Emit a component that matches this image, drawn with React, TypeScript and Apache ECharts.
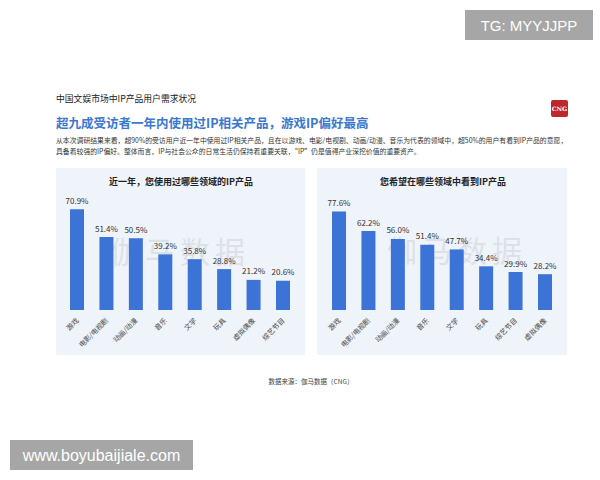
import React, { useEffect, useRef } from "react";
import * as echarts from "echarts";

const leftCategories = ["游戏", "电影/电视剧", "动画/动漫", "音乐", "文学", "玩具", "虚拟偶像", "综艺节目"];
const leftValues = [70.9, 51.4, 50.5, 39.2, 35.8, 28.8, 21.2, 20.6];
const rightCategories = ["游戏", "电影/电视剧", "动画/动漫", "音乐", "文学", "玩具", "综艺节目", "虚拟偶像"];
const rightValues = [77.6, 62.2, 56.0, 51.4, 47.7, 34.4, 29.9, 28.2];

const subtitle = "中国文娱市场中IP产品用户需求状况";
const headline = "超九成受访者一年内使用过IP相关产品，游戏IP偏好最高";
const bodyLine1 = "从本次调研结果来看，超90%的受访用户近一年中使用过IP相关产品，且在以游戏、电影/电视剧、动画/动漫、音乐为代表的领域中，超50%的用户有看到IP产品的意愿，";
const bodyLine2 = "具备着较强的IP偏好。整体而言，IP与社会公众的日常生活仍保持着重要关联，“IP”仍是值得产业深挖价值的重要资产。";
const leftTitle = "近一年，您使用过哪些领域的IP产品";
const rightTitle = "您希望在哪些领域中看到IP产品";
const source = "数据来源：伽马数据（CNG）";
const watermarkChars = ["伽", "马", "数", "据"];

const FONT = "'Noto Sans CJK SC', 'Noto Sans', sans-serif";
const BAR = "#3b73d6";

export default function App() {
  const ref = useRef<HTMLDivElement>(null);
  useEffect(() => {
    if (!ref.current) return;
    const chart = echarts.init(ref.current, null, { renderer: "svg" });
    const xAxisBase = (gridIndex: number, data: string[]) => ({
      type: "category",
      gridIndex,
      data,
      axisLine: { show: false },
      axisTick: { show: false },
      axisLabel: {
        interval: 0,
        rotate: 45,
        margin: 9,
        fontSize: 7,
        color: "#444",
        fontFamily: FONT,
      },
    });
    const yAxisBase = (gridIndex: number) => ({
      type: "value",
      gridIndex,
      min: 0,
      max: 100,
      show: false,
      splitLine: { show: false },
    });
    const seriesBase = (idx: number, data: number[]) => ({
      type: "bar",
      xAxisIndex: idx,
      yAxisIndex: idx,
      data,
      barWidth: 14,
      itemStyle: { color: BAR },
      z: 3,
      label: {
        show: true,
        position: "top",
        distance: 5,
        formatter: (p: any) => p.value.toFixed(1) + "%",
        fontSize: 8,
        color: "#333",
        fontFamily: FONT,
      },
    });
    const wm = (cx: number[], y: number) =>
      watermarkChars.map((c, i) => ({
        type: "text",
        z: 1,
        x: cx[i],
        y,
        style: { text: c, fontSize: 30, fill: "rgba(185,190,200,0.35)", align: "center", verticalAlign: "middle", fontFamily: FONT },
      }));
    chart.setOption({
      animation: false,
      backgroundColor: "#ffffff",
      textStyle: { fontFamily: FONT },
      grid: [
        { left: 62.3, width: 235.4, top: 168, bottom: 170 },
        { left: 324.3, width: 235.4, top: 183, bottom: 170 },
      ],
      xAxis: [xAxisBase(0, leftCategories), xAxisBase(1, rightCategories)],
      yAxis: [yAxisBase(0), yAxisBase(1)],
      series: [seriesBase(0, leftValues), seriesBase(1, rightValues)],
      graphic: [
        { type: "rect", z: -10, shape: { x: 56, y: 168, width: 249, height: 187 }, style: { fill: "#eff3fa" } },
        { type: "rect", z: -10, shape: { x: 317, y: 168, width: 250, height: 187 }, style: { fill: "#eff3fa" } },
        ...wm([125, 160, 195, 230], 250),
        ...wm([402, 437, 472, 507], 249),
        { type: "text", x: 181, y: 181, style: { text: leftTitle, fontSize: 9, fontWeight: "bold", fill: "#222", align: "center", verticalAlign: "middle", fontFamily: FONT } },
        { type: "text", x: 443, y: 181, style: { text: rightTitle, fontSize: 9, fontWeight: "bold", fill: "#222", align: "center", verticalAlign: "middle", fontFamily: FONT } },
        { type: "text", x: 56, y: 98, style: { text: subtitle, fontSize: 8.8, fill: "#222", verticalAlign: "middle", fontFamily: FONT } },
        { type: "text", x: 56, y: 122, style: { text: headline, fontSize: 12.5, fontWeight: "bold", fill: "#3b78cf", verticalAlign: "middle", fontFamily: FONT } },
        { type: "text", x: 56, y: 139.5, style: { text: bodyLine1, fontSize: 6.85, fill: "#333", verticalAlign: "middle", fontFamily: FONT } },
        { type: "text", x: 56, y: 151, style: { text: bodyLine2, fontSize: 6.85, fill: "#333", verticalAlign: "middle", fontFamily: FONT } },
        { type: "rect", shape: { x: 551, y: 100, width: 17, height: 17, r: 2 }, style: { fill: "#c0262c" } },
        { type: "text", x: 559.5, y: 108.5, style: { text: "CNG", fontSize: 6, fontWeight: "bold", fill: "#fff", align: "center", verticalAlign: "middle", fontFamily: "'DejaVu Serif', serif" } },
        { type: "text", x: 311, y: 381, style: { text: source, fontSize: 6.5, fill: "#444", align: "center", verticalAlign: "middle", fontFamily: FONT } },
        { type: "rect", shape: { x: 465, y: 10, width: 128, height: 30 }, style: { fill: "#a6a6a6" } },
        { type: "text", x: 529, y: 25.5, style: { text: "TG: MYYJJPP", fontSize: 15, fill: "#fff", align: "center", verticalAlign: "middle", fontFamily: "'Liberation Sans', Arial, sans-serif" } },
        { type: "rect", shape: { x: 10, y: 440, width: 183, height: 30 }, style: { fill: "#a6a6a6" } },
        { type: "text", x: 101.5, y: 455.5, style: { text: "www.boyubaijiale.com", fontSize: 16, fill: "#fff", align: "center", verticalAlign: "middle", fontFamily: "'Liberation Sans', Arial, sans-serif" } },
      ],
    });
    return () => chart.dispose();
  }, []);
  return <div ref={ref} style={{ position: "fixed", left: 0, top: 0, width: 600, height: 480 }} />;
}
